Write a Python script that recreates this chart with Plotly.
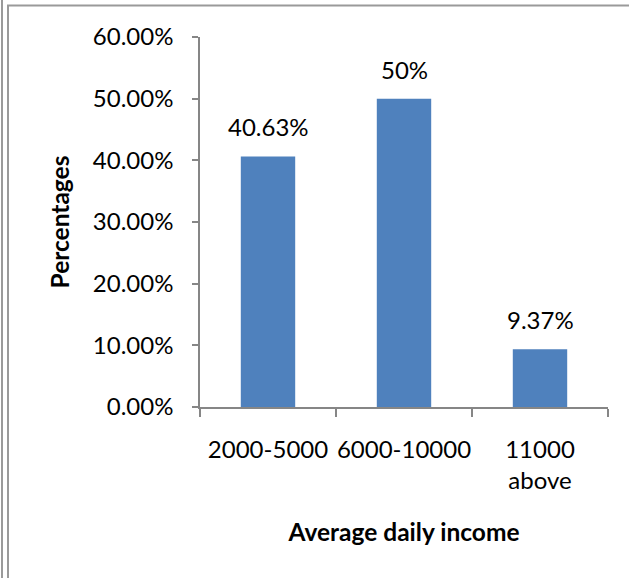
import plotly.graph_objects as go

categories = ["2000-5000", "6000-10000", "11000<br>above"]
values = [0.4063, 0.50, 0.0937]
value_labels = ["40.63%", "50%", "9.37%"]
y_ticks = [0, 0.1, 0.2, 0.3, 0.4, 0.5, 0.6]

W, H = 629, 578
L, R, T, B = 200, 21, 37, 171
pw = W - L - R

def px(x):
    return (x - L) / pw

def py(y):
    return (H - y - B) / (H - T - B)

font = "Lato, Liberation Sans, Arial, sans-serif"
FS = 24
TFS = 24.5

fig = go.Figure(go.Bar(
    x=categories, y=values,
    marker=dict(color="#4F81BD", line=dict(width=0)),
    hoverinfo="skip",
))

for c, v, t in zip(categories, values, value_labels):
    fig.add_annotation(x=c, y=v, text=t, showarrow=False, yanchor="bottom",
                       yshift=13, font=dict(size=FS, color="black", family=font))

grey = "#9a9a9a"
shapes = [
    dict(type="line", xref="paper", yref="paper", x0=px(2), x1=px(2), y0=py(0), y1=py(578), line=dict(color=grey, width=2)),
    dict(type="line", xref="paper", yref="paper", x0=px(8), x1=px(8), y0=py(5), y1=py(578), line=dict(color=grey, width=2)),
    dict(type="line", xref="paper", yref="paper", x0=px(7), x1=px(629), y0=py(5.5), y1=py(5.5), line=dict(color=grey, width=2)),
]

fig.update_layout(
    width=W, height=H,
    margin=dict(l=L, r=R, t=T, b=B),
    paper_bgcolor="white", plot_bgcolor="white",
    bargap=0.6,
    showlegend=False,
    font=dict(family=font, size=FS, color="black"),
    shapes=shapes,
    xaxis=dict(
        showline=True, linecolor="#868686", linewidth=1.5,
        ticks="outside", ticklen=8, tickcolor="#868686", tickwidth=1.5,
        tickson="boundaries", ticklabelstandoff=20, tickangle=0,
        tickfont=dict(size=FS, family=font),
        title=dict(text="<b>Average daily income</b>", font=dict(size=TFS, family=font), standoff=31),
    ),
    yaxis=dict(
        range=[0, 0.6], tickvals=y_ticks, tickformat=".2%",
        showgrid=False, zeroline=False,
        showline=True, linecolor="#868686", linewidth=1.5,
        ticks="outside", ticklen=6, tickcolor="#868686", tickwidth=1.5,
        ticklabelstandoff=14,
        tickfont=dict(size=FS, family=font),
        title=dict(text="<b>Percentages</b>", font=dict(size=TFS, family=font), standoff=16),
    ),
)

fig.write_html("out.html")
